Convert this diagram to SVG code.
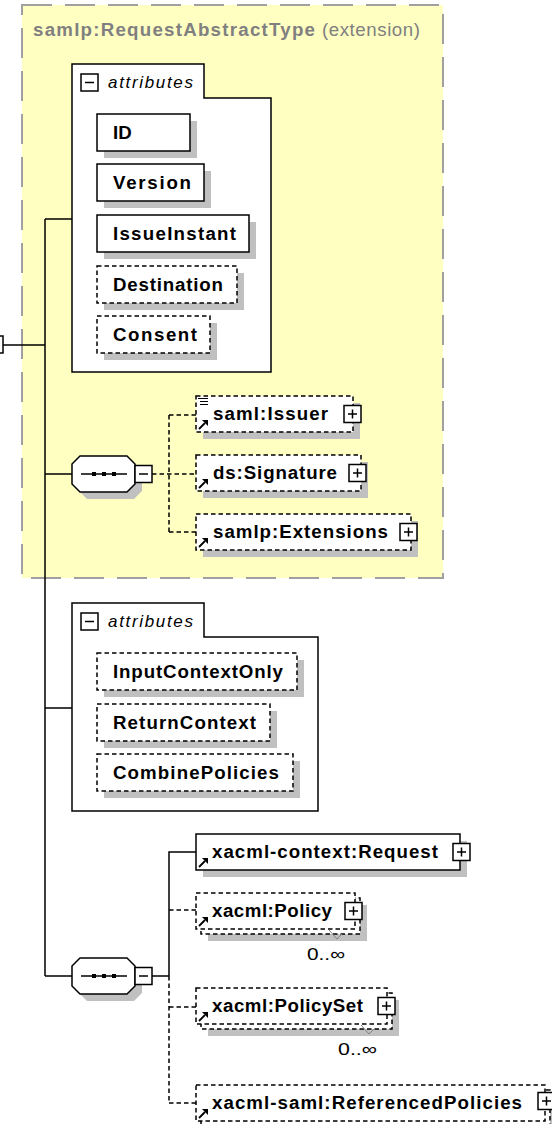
<svg xmlns="http://www.w3.org/2000/svg" xmlns:xlink="http://www.w3.org/1999/xlink" width="552" height="1124" viewBox="0 0 552 1124">
<style>
.b{fill:#fff;stroke:#000;stroke-width:1.5}
.d{fill:#fff;stroke:#000;stroke-width:1.5;stroke-dasharray:4.5 3}
.sh{fill:#c0c0c0;stroke:none}
.t{font-family:"Liberation Sans",Arial,sans-serif;font-weight:bold;font-size:18.7px;fill:#000}
.it{font-family:"Liberation Sans",Arial,sans-serif;font-style:italic;font-size:17px;fill:#000}
.m{font-family:"Liberation Sans",Arial,sans-serif;font-size:17px;fill:#000}
.c{fill:none;stroke:#000;stroke-width:1.5}
.cd{fill:none;stroke:#000;stroke-width:1.5;stroke-dasharray:4.5 3}
.mk{fill:none;stroke:#808080;stroke-width:1}
</style>
<defs>
<g id="plus"><rect x="0" y="0" width="17" height="17" class="b"/><path d="M4,8.5H13M8.5,4V13" class="c"/></g>
<g id="minus"><rect x="0" y="0" width="17" height="17" class="b"/><path d="M4,8.5H13" class="c"/></g>
<g id="lnk"><path d="M0,0L6,-6" stroke="#000" stroke-width="1.8"/><path d="M9,-9L3,-9L9,-3Z" fill="#000"/></g>
<g id="seq">
<polygon points="80,-18 127,-18 135,-10 135,10 127,18 80,18 72,10 72,-10" class="sh" transform="translate(7,7)"/>
<polygon points="80,-18 127,-18 135,-10 135,10 127,18 80,18 72,10 72,-10" class="b"/>
<path d="M81,0H127" class="c"/>
<rect x="92" y="-2" width="4" height="4" fill="#000"/><rect x="102" y="-2" width="4" height="4" fill="#000"/><rect x="112" y="-2" width="4" height="4" fill="#000"/>
</g>
</defs>

<g id="ext">
<rect x="22" y="5" width="421" height="573" fill="#ffffc2" stroke="#a0a0a0" stroke-width="2" stroke-dasharray="30 13"/>
<text x="33" y="36" font-family="Liberation Sans, Arial, sans-serif" font-size="18.7" font-weight="bold" fill="#808080" textLength="282" lengthAdjust="spacing">samlp:RequestAbstractType</text>
<text x="322" y="36" font-family="Liberation Sans, Arial, sans-serif" font-size="18.7" fill="#808080" textLength="98" lengthAdjust="spacing">(extension)</text>
</g>

<g id="connectors">
<rect x="-14" y="336" width="17" height="17" class="b"/><path d="M-10,344.5H-1M-5.5,340V349" class="c"/>
<path d="M3,345H45M45,219V976M45,219H72M45,474H72M45,708H72M45,976H72" class="c"/>
<path d="M152,474H196M169,415V532M169,415H196M169,532H196" class="cd"/>
<path d="M152,976H169M169,976V852H196" class="c"/>
<path d="M169,976V1103M169,910H196M169,1007H196M169,1103H196" class="cd"/>
</g>

<g id="attrs1">
<path d="M72,372V64H204V98H271V372Z" class="b"/>
<use xlink:href="#minus" x="81" y="74"/>
<text class="it" x="108" y="88" textLength="85" lengthAdjust="spacing">attributes</text>
</g>
<g id="ID"><rect x="104" y="121" width="93" height="37" class="sh"/><rect x="97" y="114" width="93" height="37" class="b"/><text class="t" x="113" y="139">ID</text></g>
<g id="Version"><rect x="104" y="171" width="107" height="37" class="sh"/><rect x="97" y="164" width="107" height="37" class="b"/><text class="t" x="113" y="189" textLength="78" lengthAdjust="spacing">Version</text></g>
<g id="IssueInstant"><rect x="104" y="222" width="152" height="37" class="sh"/><rect x="97" y="215" width="152" height="37" class="b"/><text class="t" x="113" y="240" textLength="123" lengthAdjust="spacing">IssueInstant</text></g>
<g id="Destination"><rect x="104" y="273" width="140" height="37" class="sh"/><rect x="97" y="266" width="140" height="37" class="d"/><text class="t" x="113" y="291" textLength="110" lengthAdjust="spacing">Destination</text></g>
<g id="Consent"><rect x="104" y="323" width="113" height="37" class="sh"/><rect x="97" y="316" width="113" height="37" class="d"/><text class="t" x="113" y="341" textLength="84" lengthAdjust="spacing">Consent</text></g>

<g id="seq1"><use xlink:href="#seq" x="0" y="474"/><use xlink:href="#minus" x="135" y="465.5"/></g>

<g id="Issuer"><rect x="203" y="403" width="157" height="36" class="sh"/><rect x="196" y="396" width="157" height="36" class="d"/>
<path d="M198,398.5H208M200,401.5H208M200,404.5H208" stroke="#000" stroke-width="1"/>
<text class="t" x="213" y="420" textLength="115" lengthAdjust="spacing">saml:Issuer</text><use xlink:href="#plus" x="344" y="405.5"/><use xlink:href="#lnk" x="199" y="429"/></g>
<g id="Signature"><rect x="203" y="462" width="165" height="36" class="sh"/><rect x="196" y="455" width="165" height="36" class="d"/>
<text class="t" x="213" y="479" textLength="124" lengthAdjust="spacing">ds:Signature</text><use xlink:href="#plus" x="349" y="464.5"/><use xlink:href="#lnk" x="199" y="488"/></g>
<g id="Extensions"><rect x="203" y="521" width="215" height="36" class="sh"/><rect x="196" y="514" width="215" height="36" class="d"/>
<text class="t" x="213" y="538" textLength="175" lengthAdjust="spacing">samlp:Extensions</text><use xlink:href="#plus" x="400" y="523.5"/><use xlink:href="#lnk" x="199" y="547"/></g>

<g id="attrs2">
<path d="M72,811V603H204V637H318V811Z" class="b"/>
<use xlink:href="#minus" x="81" y="613"/>
<text class="it" x="108" y="627" textLength="85" lengthAdjust="spacing">attributes</text>
</g>
<g id="InputContextOnly"><rect x="104" y="660" width="200" height="37" class="sh"/><rect x="97" y="653" width="200" height="37" class="d"/><text class="t" x="113" y="678" textLength="170" lengthAdjust="spacing">InputContextOnly</text></g>
<g id="ReturnContext"><rect x="104" y="711" width="173" height="37" class="sh"/><rect x="97" y="704" width="173" height="37" class="d"/><text class="t" x="113" y="729" textLength="143" lengthAdjust="spacing">ReturnContext</text></g>
<g id="CombinePolicies"><rect x="104" y="761" width="196" height="37" class="sh"/><rect x="97" y="754" width="196" height="37" class="d"/><text class="t" x="113" y="779" textLength="166" lengthAdjust="spacing">CombinePolicies</text></g>

<g id="seq2"><use xlink:href="#seq" x="0" y="976"/><use xlink:href="#minus" x="135" y="967.5"/></g>

<g id="Request"><rect x="203" y="841" width="264" height="36" class="sh"/><rect x="196" y="834" width="264" height="36" class="b"/>
<text class="t" x="212" y="858" textLength="226" lengthAdjust="spacing">xacml-context:Request</text><use xlink:href="#plus" x="453" y="843.5"/><use xlink:href="#lnk" x="199" y="867"/></g>
<g id="Policy"><rect x="208" y="905" width="159" height="36" class="sh"/><rect x="201" y="898" width="159" height="36" class="d"/><rect x="196" y="893" width="159" height="36" class="d"/>
<text class="t" x="212" y="917" textLength="120" lengthAdjust="spacing">xacml:Policy</text><use xlink:href="#plus" x="345" y="902.5"/><use xlink:href="#lnk" x="199" y="926"/>
<polyline points="329,930 337,939 342,934" class="mk"/><text class="m" x="307" y="960" textLength="38" lengthAdjust="spacingAndGlyphs">0..∞</text></g>
<g id="PolicySet"><rect x="208" y="1000" width="191" height="36" class="sh"/><rect x="201" y="993" width="191" height="36" class="d"/><rect x="196" y="988" width="191" height="36" class="d"/>
<text class="t" x="212" y="1012" textLength="151" lengthAdjust="spacing">xacml:PolicySet</text><use xlink:href="#plus" x="378" y="997.5"/><use xlink:href="#lnk" x="199" y="1021"/>
<polyline points="361,1025 369,1034 374,1029" class="mk"/><text class="m" x="338" y="1055" textLength="39" lengthAdjust="spacingAndGlyphs">0..∞</text></g>
<g id="ReferencedPolicies"><rect x="208" y="1097" width="349" height="36" class="sh"/><rect x="201" y="1090" width="349" height="36" class="d"/><rect x="196" y="1085" width="349" height="36" class="d"/>
<text class="t" x="212" y="1109" textLength="310" lengthAdjust="spacing">xacml-saml:ReferencedPolicies</text><use xlink:href="#plus" x="538" y="1092.5"/><use xlink:href="#lnk" x="199" y="1118"/></g>
</svg>
